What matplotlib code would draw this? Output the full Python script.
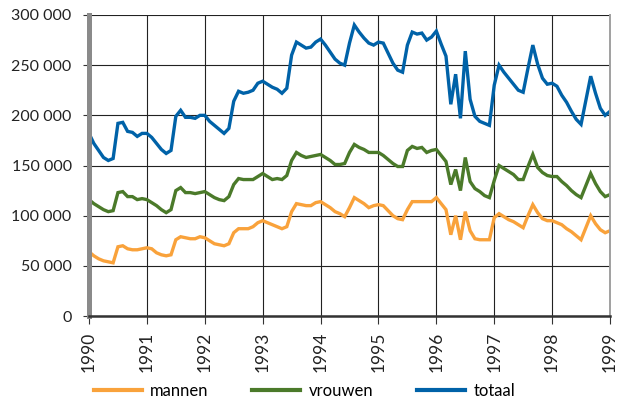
import numpy as np
import matplotlib
matplotlib.use("Agg")
import matplotlib.pyplot as plt
from matplotlib.ticker import FuncFormatter

plt.rcParams["font.family"] = ["Lato", "DejaVu Sans"]

# monthly values, jan 1990 .. jan 1999 (x 1000)
mannen = [64, 60, 57, 55, 54, 53, 69, 70, 67, 66, 66, 67,
          68, 67, 63, 61, 60, 61, 76, 79, 78, 77, 77, 79,
          78, 75, 72, 71, 70, 72, 83, 87, 87, 87, 89, 93,
          95, 93, 91, 89, 87, 89, 104, 112, 111, 110, 110, 113,
          114, 111, 108, 104, 102, 99, 108, 118, 115, 112, 108, 110,
          111, 110, 105, 100, 97, 96, 106, 114, 114, 114, 114, 114,
          118, 112, 106, 81, 100, 76, 104, 85, 77, 76, 76, 76,
          98, 102, 99, 96, 94, 91, 88, 100, 111, 103, 97, 95,
          95, 93, 91, 87, 84, 80, 76, 88, 100, 92, 86, 83,
          85]
vrouwen = [116, 112, 109, 106, 104, 105, 123, 124, 119, 119, 116, 117,
           116, 113, 110, 106, 103, 106, 125, 128, 123, 123, 122, 123,
           124, 121, 118, 116, 115, 119, 131, 137, 136, 136, 136, 139,
           142, 139, 136, 137, 136, 140, 155, 163, 160, 158, 159, 160,
           161, 158, 155, 151, 151, 152, 163, 171, 168, 166, 163, 163,
           163, 160, 156, 152, 149, 149, 165, 169, 167, 168, 163, 165,
           166, 160, 154, 131, 146, 125, 158, 134, 127, 124, 120, 118,
           135, 150, 147, 144, 141, 136, 136, 149, 161, 148, 143, 140,
           139, 139, 134, 130, 125, 121, 118, 130, 142, 132, 124, 119,
           121]
totaal = [182, 172, 165, 158, 155, 157, 192, 193, 184, 183, 179, 182,
          182, 178, 172, 166, 162, 165, 199, 205, 198, 198, 197, 200,
          200, 194, 190, 186, 182, 187, 214, 224, 222, 223, 225, 232,
          234, 231, 228, 226, 222, 227, 260, 273, 270, 267, 268, 273,
          276, 270, 263, 256, 252, 250, 272, 290, 283, 277, 272, 270,
          273, 272, 262, 252, 245, 243, 270, 283, 281, 282, 275, 278,
          284, 271, 259, 211, 241, 197, 264, 216, 199, 194, 192, 190,
          230, 250, 243, 237, 231, 225, 223, 247, 270, 251, 237, 231,
          232, 229, 220, 213, 204, 196, 191, 215, 239, 222, 207, 200,
          204]
jaren = list(range(1990, 2000))

x = 1990 + np.arange(len(totaal)) / 12

fig = plt.figure(figsize=(6.19, 4.01), dpi=100)
ax = fig.add_axes([89 / 619, 85 / 401, 521 / 619, 301 / 401])

series = [("mannen", mannen, "#F9A23B"),
          ("vrouwen", vrouwen, "#4B7A2A"),
          ("totaal", totaal, "#0062A8")]
for name, vals, col in series:
    ax.plot(x, np.array(vals) * 1000, color=col, lw=2.4, label=name,
            solid_joinstyle="miter")

ax.set_xlim(1990, 1999)
ax.set_ylim(0, 300000)
ax.set_xticks(jaren)
ax.set_xticklabels([str(j) for j in jaren], rotation=90, va="top")
ax.set_yticks(np.arange(0, 300001, 50000))
ax.yaxis.set_major_formatter(FuncFormatter(lambda v, p: f"{v:,.0f}".replace(",", " ")))
ax.grid(True, color="#222222", lw=0.8)
ax.set_axisbelow(True)

ax.spines["top"].set_visible(False)
ax.spines["left"].set_color("#8a8a8a")
ax.spines["left"].set_linewidth(3.6)
ax.spines["bottom"].set_color("#333333")
ax.spines["bottom"].set_linewidth(1.8)
ax.spines["right"].set_color("#a0a0a0")
ax.spines["right"].set_linewidth(1.4)

ax.tick_params(axis="x", length=6, width=0.8, color="#333333", pad=5,
               labelsize=12.5, labelcolor="#222222")
ax.tick_params(axis="y", length=4.5, width=0.8, color="#333333", pad=8,
               labelsize=11.5, labelcolor="#222222")

fig.legend(loc="lower left", bbox_to_anchor=(91 / 619, 0.0), ncol=3,
           frameon=False, fontsize=12, handlelength=2.9, handletextpad=0.5,
           columnspacing=2.6, borderpad=0.15, borderaxespad=0)
for line in fig.legends[0].get_lines():
    line.set_linewidth(3)

fig.savefig("out.png", dpi=100)
